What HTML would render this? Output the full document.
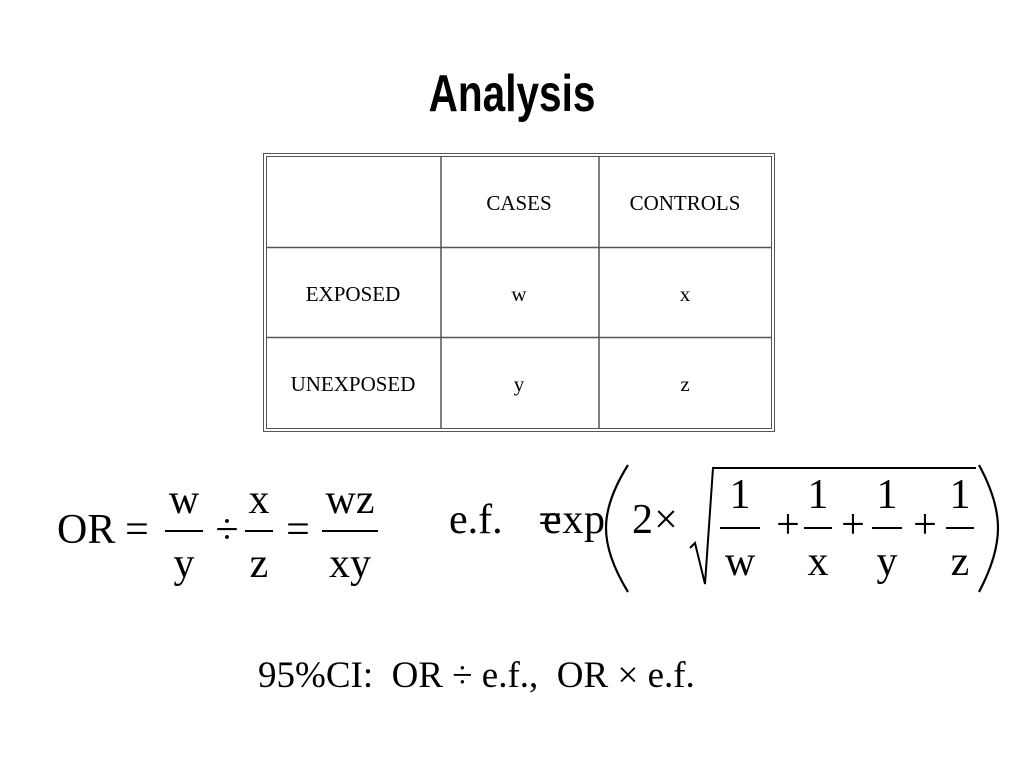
<!DOCTYPE html>
<html><head><meta charset="utf-8"><style>
html,body{margin:0;padding:0;background:#fff;width:1024px;height:768px;overflow:hidden}
svg{display:block}
.s{font-family:"Liberation Serif",serif;fill:#000}
</style></head><body>
<svg width="1024" height="768" viewBox="0 0 1024 768" xmlns="http://www.w3.org/2000/svg">
<text x="512" y="111" text-anchor="middle" font-family="Liberation Sans,sans-serif" font-weight="bold" font-size="52" transform="translate(512 0) scale(0.78 1) translate(-512 0)">Analysis</text>
<g fill="none" stroke="#555" stroke-width="1">
<rect x="263.5" y="153.5" width="511" height="278"/>
<rect x="266.5" y="156.5" width="505" height="272"/>
<line x1="441" y1="156" x2="441" y2="429" stroke-width="1.5"/>
<line x1="599" y1="156" x2="599" y2="429" stroke-width="1.5"/>
<line x1="266" y1="247.5" x2="772" y2="247.5" stroke-width="1.5"/>
<line x1="266" y1="337.5" x2="772" y2="337.5" stroke-width="1.5"/>
</g>
<g class="s" font-size="21" text-anchor="middle">
<text x="519" y="210">CASES</text>
<text x="685" y="210">CONTROLS</text>
<text x="353" y="301">EXPOSED</text>
<text x="519" y="301">w</text>
<text x="685" y="301">x</text>
<text x="353" y="391">UNEXPOSED</text>
<text x="519" y="391">y</text>
<text x="685" y="391">z</text>
</g>
<g class="s" font-size="42">
<text x="57" y="543">OR</text>
<text x="137" y="543" text-anchor="middle">=</text>
<text x="184" y="513" text-anchor="middle">w</text>
<text x="184" y="577" text-anchor="middle">y</text>
<text x="227" y="543" text-anchor="middle">÷</text>
<text x="259" y="513" text-anchor="middle">x</text>
<text x="259" y="577" text-anchor="middle">z</text>
<text x="298" y="543" text-anchor="middle">=</text>
<text x="350" y="513" text-anchor="middle">wz</text>
<text x="350" y="577" text-anchor="middle">xy</text>
<text x="449" y="533">e.f.</text>
<text x="550" y="533" text-anchor="middle">=</text>
<text x="546" y="533" dx="0" >‍</text>
<text x="545" y="533" visibility="hidden">.</text>
<text x="574" y="533" text-anchor="middle" textLength="62">exp</text>
<text x="632" y="533">2</text>
<text x="666" y="533" text-anchor="middle">×</text>
<text x="740" y="508" text-anchor="middle">1</text>
<text x="740" y="575" text-anchor="middle">w</text>
<text x="788" y="538" text-anchor="middle">+</text>
<text x="818" y="508" text-anchor="middle">1</text>
<text x="818" y="575" text-anchor="middle">x</text>
<text x="853" y="538" text-anchor="middle">+</text>
<text x="887" y="508" text-anchor="middle">1</text>
<text x="887" y="575" text-anchor="middle">y</text>
<text x="925" y="538" text-anchor="middle">+</text>
<text x="960" y="508" text-anchor="middle">1</text>
<text x="960" y="575" text-anchor="middle">z</text>
</g>
<g stroke="#000" fill="none" stroke-width="2">
<line x1="165" y1="531" x2="203" y2="531"/>
<line x1="245" y1="531" x2="273" y2="531"/>
<line x1="322" y1="531" x2="378" y2="531"/>
<line x1="720" y1="528" x2="760" y2="528"/>
<line x1="804" y1="528" x2="832" y2="528"/>
<line x1="872" y1="528" x2="902" y2="528"/>
<line x1="946" y1="528" x2="974" y2="528"/>
<path d="M628 465 Q606 500 606 528 Q606 556 628 592" stroke-width="2.2"/>
<path d="M979 465 Q998 500 998 528 Q998 556 979 592" stroke-width="2.2"/>
<path d="M690 548 L695 543 L705 584 L713 468 L976 468" stroke-width="2"/>
</g>
<text class="s" x="258" y="687" font-size="37" xml:space="preserve">95%CI:  OR ÷ e.f.,  OR × e.f.</text>
</svg>
</body></html>
